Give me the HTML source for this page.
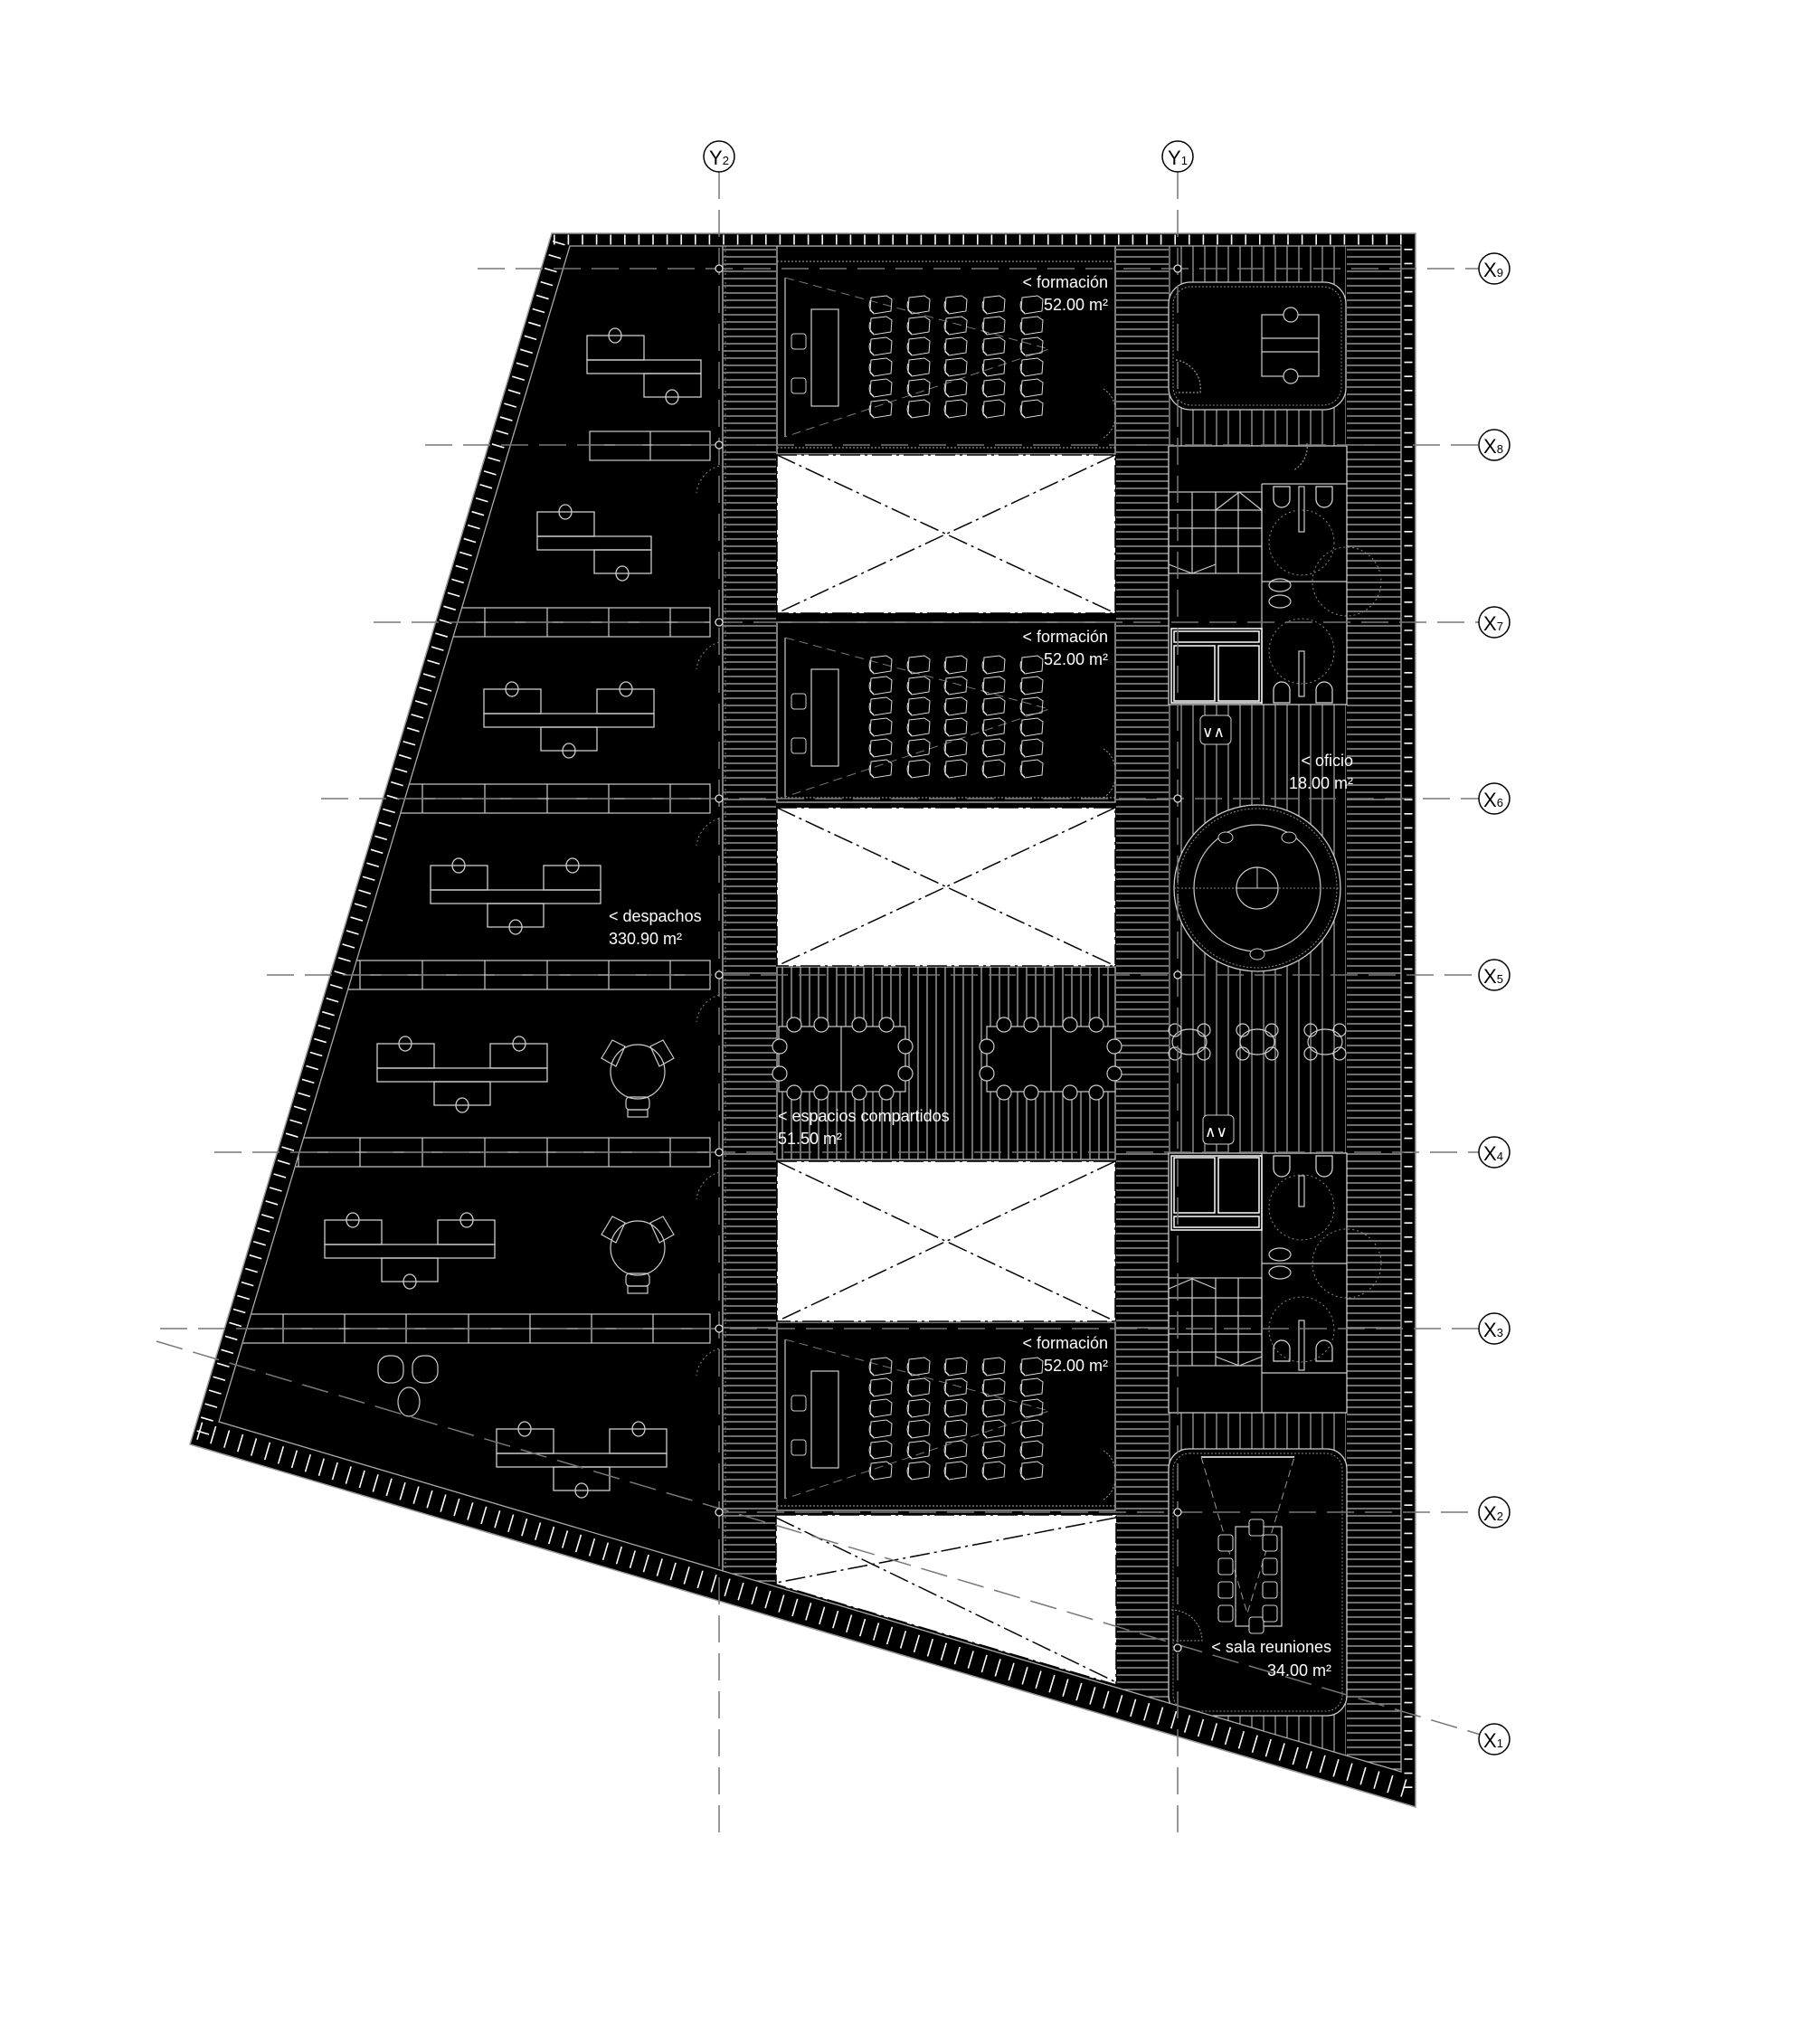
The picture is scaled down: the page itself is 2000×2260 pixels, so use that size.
<!DOCTYPE html>
<html><head><meta charset="utf-8"><style>
html,body{margin:0;padding:0;background:#fff;}
svg{display:block;}
text{font-family:"Liberation Sans",sans-serif;fill:#fff;}
</style></head><body>
<svg width="2000" height="2260" viewBox="0 0 2000 2260" xmlns="http://www.w3.org/2000/svg">
<defs>
<pattern id="hh" width="8" height="8" patternUnits="userSpaceOnUse"><rect width="8" height="8" fill="#000"/><line x1="0" y1="4" x2="8" y2="4" stroke="#b8b8b8" stroke-width="1.2"/></pattern>
<pattern id="hv" width="10" height="10" patternUnits="userSpaceOnUse"><rect width="10" height="10" fill="#000"/><line x1="5" y1="0" x2="5" y2="10" stroke="#b8b8b8" stroke-width="1.2"/></pattern>
<pattern id="hv2" width="13" height="13" patternUnits="userSpaceOnUse"><rect width="13" height="13" fill="#000"/><line x1="6" y1="0" x2="6" y2="13" stroke="#b8b8b8" stroke-width="1.1"/></pattern>
<g id="chair"><path d="M3 2 L20 0 L26 4 L25 17 L6 20 L2 16 Z" fill="none" stroke="#ddd" stroke-width="1"/><path d="M2 6 Q-1 14 6 19" fill="none" stroke="#ddd" stroke-width="1"/></g>
<g id="desk3" fill="none" stroke="#ccc" stroke-width="1.3">
<rect x="0" y="0" width="63" height="27"/><rect x="125" y="0" width="63" height="27"/><rect x="0" y="27" width="188" height="15"/><rect x="63" y="42" width="62" height="26"/>
<ellipse cx="31" cy="0" rx="7" ry="8"/><ellipse cx="157" cy="0" rx="7" ry="8"/><ellipse cx="94" cy="68" rx="7" ry="8"/></g>
<g id="desk2" fill="none" stroke="#ccc" stroke-width="1.3">
<rect x="0" y="0" width="63" height="27"/><rect x="0" y="27" width="126" height="15"/><rect x="63" y="42" width="63" height="26"/>
<ellipse cx="31" cy="0" rx="7" ry="8"/><ellipse cx="94" cy="68" rx="7" ry="8"/></g>
<g id="lounge" fill="none" stroke="#ccc" stroke-width="1.2">
<circle cx="0" cy="0" r="30"/><path d="M-40 -15 L-28 -35 L-14 -28 L-24 -6 Z"/><path d="M40 -15 L28 -35 L14 -28 L24 -6 Z"/><rect x="-13" y="28" width="26" height="14" rx="4"/><rect x="-11" y="42" width="22" height="8"/></g>
<g id="formacion">
<line x1="868" y1="307" x2="868" y2="483" stroke="#ccc" stroke-width="1.2"/>
<path d="M868 307 L1160 386 L868 483" fill="none" stroke="#777" stroke-width="1" stroke-dasharray="10 6"/>
<rect x="897" y="342" width="30" height="107" fill="#000" stroke="#ccc" stroke-width="1.2"/>
<rect x="875" y="369" width="16" height="17" rx="3" fill="none" stroke="#ccc"/>
<rect x="875" y="418" width="16" height="17" rx="3" fill="none" stroke="#ccc"/>
<path d="M1220 430 A28 28 0 0 1 1233 455 M1220 484 A28 28 0 0 0 1233 459" fill="none" stroke="#999" stroke-dasharray="2 2"/>
</g>
<g id="rowchairs">
<use href="#chair" x="960" y="0"/><use href="#chair" x="1002" y="0"/><use href="#chair" x="1043" y="0"/><use href="#chair" x="1085" y="0"/><use href="#chair" x="1127" y="0"/>
</g>
<g id="chairgrid">
<use href="#rowchairs" y="327"/><use href="#rowchairs" y="350"/><use href="#rowchairs" y="373"/><use href="#rowchairs" y="396"/><use href="#rowchairs" y="419"/><use href="#rowchairs" y="442"/>
</g>
<g id="lockers" fill="none" stroke="#fff" stroke-width="1.5">
<rect x="1295" y="695" width="100" height="82"/><rect x="1298" y="698" width="94" height="12"/><rect x="1298" y="714" width="45" height="61"/><rect x="1347" y="714" width="45" height="61"/></g>
<g id="toilet" fill="none" stroke="#ddd" stroke-width="1.2"><path d="M0 0 L18 0 L18 14 A9 9 0 0 1 0 14 Z"/></g>
<g id="table4" fill="none" stroke="#ccc" stroke-width="1.2"><ellipse cx="0" cy="0" rx="19" ry="14"/><circle cx="-16" cy="-13" r="7"/><circle cx="16" cy="-13" r="7"/><circle cx="-16" cy="13" r="7"/><circle cx="16" cy="13" r="7"/></g>
<clipPath id="inner"><polygon points="630,272 1549,272 1549,1959 242,1572"/></clipPath>
<clipPath id="outer"><polygon points="610,258 1565,258 1565,1998 210,1597"/></clipPath>
</defs>

<polygon points="610,258 1565,258 1565,1998 210,1597" fill="#000"/>

<g clip-path="url(#inner)">
<rect x="800" y="272" width="58" height="1600" fill="url(#hh)"/>
<rect x="1234" y="272" width="58" height="1700" fill="url(#hh)"/>
<rect x="1489" y="272" width="60" height="1700" fill="url(#hh)"/>
<rect x="1292" y="272" width="196" height="1700" fill="url(#hv2)"/>
<line x1="799" y1="272" x2="799" y2="1860" stroke="#bbb" stroke-width="1.3"/>
<line x1="802" y1="272" x2="802" y2="1860" stroke="#888" stroke-dasharray="2 3"/>

<rect x="859" y="272" width="374" height="230" fill="#000" stroke="#bbb" stroke-width="1.3"/>
<rect x="859" y="688" width="374" height="199" fill="#000" stroke="#bbb" stroke-width="1.3"/>
<rect x="859" y="1462" width="374" height="208" fill="#000" stroke="#bbb" stroke-width="1.3"/>
<line x1="859" y1="289" x2="1233" y2="289" stroke="#aaa" stroke-dasharray="2 2"/>
<line x1="859" y1="495" x2="1233" y2="495" stroke="#aaa" stroke-dasharray="2 2"/>
<line x1="859" y1="882" x2="1233" y2="882" stroke="#aaa" stroke-dasharray="2 2"/>
<line x1="859" y1="1665" x2="1233" y2="1665" stroke="#aaa" stroke-dasharray="2 2"/>
<rect x="859" y="1069" width="374" height="213" fill="url(#hv)" stroke="#bbb" stroke-width="1.3"/>

<use href="#formacion"/><use href="#chairgrid"/>
<use href="#formacion" y="398"/><use href="#chairgrid" y="398"/>
<use href="#formacion" y="1174"/><use href="#chairgrid" y="1174"/>

<g fill="#000" stroke="#ccc" stroke-width="1.2">
<rect x="861" y="1135" width="140" height="72"/><line x1="930" y1="1135" x2="930" y2="1207"/>
<rect x="1091" y="1135" width="142" height="72"/><line x1="1162" y1="1135" x2="1162" y2="1207"/>
</g>
<g fill="#000" stroke="#ccc" stroke-width="1.2">
<circle cx="878" cy="1133" r="8"/><circle cx="908" cy="1133" r="8"/><circle cx="950" cy="1133" r="8"/><circle cx="980" cy="1133" r="8"/>
<circle cx="878" cy="1208" r="8"/><circle cx="908" cy="1208" r="8"/><circle cx="950" cy="1208" r="8"/><circle cx="980" cy="1208" r="8"/>
<circle cx="1001" cy="1157" r="8"/><circle cx="1001" cy="1187" r="8"/><circle cx="862" cy="1157" r="8"/><circle cx="862" cy="1187" r="8"/>
<circle cx="1110" cy="1133" r="8"/><circle cx="1140" cy="1133" r="8"/><circle cx="1183" cy="1133" r="8"/><circle cx="1212" cy="1133" r="8"/>
<circle cx="1110" cy="1208" r="8"/><circle cx="1140" cy="1208" r="8"/><circle cx="1183" cy="1208" r="8"/><circle cx="1212" cy="1208" r="8"/>
<circle cx="1091" cy="1157" r="8"/><circle cx="1091" cy="1187" r="8"/><circle cx="1232" cy="1157" r="8"/><circle cx="1232" cy="1187" r="8"/>
</g>

<g stroke="#000" stroke-width="1.5" stroke-dasharray="22 5 3 5" fill="none">
<rect x="859" y="503" width="374" height="175" fill="#fff"/>
<line x1="859" y1="503" x2="1233" y2="678"/><line x1="1233" y1="503" x2="859" y2="678"/>
<rect x="859" y="893" width="374" height="175" fill="#fff"/>
<line x1="859" y1="893" x2="1233" y2="1068"/><line x1="1233" y1="893" x2="859" y2="1068"/>
<rect x="859" y="1284" width="374" height="177" fill="#fff"/>
<line x1="859" y1="1284" x2="1233" y2="1461"/><line x1="1233" y1="1284" x2="859" y2="1461"/>
<polygon points="858,1675 1234,1675 1234,1863 858,1752" fill="#fff"/>
<line x1="858" y1="1678" x2="1234" y2="1860"/><line x1="1234" y1="1678" x2="858" y2="1750"/>
</g>

<rect x="1292" y="312" width="196" height="141" rx="24" fill="#000" stroke="#ccc" stroke-width="1.3"/>
<rect x="1297" y="317" width="186" height="131" rx="20" fill="none" stroke="#888" stroke-dasharray="2 2"/>
<g fill="none" stroke="#ccc" stroke-width="1.2"><rect x="1395" y="348" width="63" height="68"/><line x1="1395" y1="374" x2="1458" y2="374"/><line x1="1395" y1="389" x2="1458" y2="389"/><circle cx="1427" cy="348" r="8" fill="#000"/><circle cx="1427" cy="416" r="8" fill="#000"/>
<path d="M1300 398 A32 32 0 0 1 1327 434 L1300 434" stroke="#999" stroke-dasharray="2 2"/></g>

<rect x="1292" y="493" width="197" height="286" fill="#000" stroke="#ccc" stroke-width="1.3"/>
<g fill="none" stroke="#ccc" stroke-width="1.2">
<line x1="1395" y1="535" x2="1489" y2="535"/><line x1="1395" y1="535" x2="1395" y2="779"/>
<line x1="1395" y1="643" x2="1489" y2="643"/>
<rect x="1292" y="544" width="103" height="90"/>
<line x1="1318" y1="544" x2="1318" y2="634"/><line x1="1344" y1="544" x2="1344" y2="634"/><line x1="1369" y1="544" x2="1369" y2="634"/>
<line x1="1292" y1="564" x2="1395" y2="564"/><line x1="1292" y1="584" x2="1395" y2="584"/><line x1="1292" y1="604" x2="1395" y2="604"/>
<path d="M1344 564 L1370 544 L1395 564 M1292 624 L1318 634 L1344 624"/>
<rect x="1436" y="538" width="6" height="50"/><rect x="1436" y="720" width="6" height="50"/>
<ellipse cx="1415" cy="647" rx="12" ry="7"/><ellipse cx="1415" cy="665" rx="12" ry="7"/>
<path d="M1445 490 A30 30 0 0 1 1430 520" stroke="#999" stroke-dasharray="2 2"/>
</g>
<use href="#toilet" x="1408" y="538"/><use href="#toilet" x="1455" y="538"/>
<g transform="translate(0,1315) scale(1,-1)"><use href="#toilet" x="1408" y="538"/><use href="#toilet" x="1455" y="538"/></g>
<g fill="none" stroke="#888" stroke-dasharray="2 3"><circle cx="1439" cy="600" r="36"/><circle cx="1489" cy="643" r="38"/><circle cx="1439" cy="720" r="36"/></g>
<use href="#lockers"/>

<rect x="1327" y="791" width="34" height="32" rx="5" fill="#000" stroke="#ccc"/>
<text x="1329" y="815" font-size="17">∨∧</text>
<circle cx="1390" cy="982" r="92" fill="#000" stroke="#ccc" stroke-width="1.3"/>
<circle cx="1390" cy="982" r="88" fill="none" stroke="#888" stroke-dasharray="2 2"/>
<circle cx="1390" cy="982" r="70" fill="none" stroke="#ccc" stroke-width="1.2"/>
<line x1="1298" y1="982" x2="1482" y2="982" stroke="#888" stroke-dasharray="2 2"/>
<circle cx="1390" cy="982" r="23" fill="#000" stroke="#ccc" stroke-width="1.2"/>
<line x1="1390" y1="959" x2="1390" y2="982" stroke="#ccc"/><line x1="1367" y1="982" x2="1413" y2="982" stroke="#ccc"/>
<g fill="#000" stroke="#ccc"><ellipse cx="1355" cy="926" rx="8" ry="6"/><ellipse cx="1425" cy="926" rx="8" ry="6"/><ellipse cx="1390" cy="1055" rx="8" ry="6"/></g>
<use href="#table4" x="1315" y="1152"/><use href="#table4" x="1390" y="1152"/><use href="#table4" x="1465" y="1152"/>
<rect x="1330" y="1233" width="34" height="32" rx="5" fill="#000" stroke="#ccc"/>
<text x="1332" y="1257" font-size="17">∧∨</text>

<rect x="1292" y="1275" width="197" height="287" fill="#000" stroke="#ccc" stroke-width="1.3"/>
<g fill="none" stroke="#ccc" stroke-width="1.2">
<line x1="1395" y1="1275" x2="1395" y2="1562"/><line x1="1395" y1="1397" x2="1489" y2="1397"/><line x1="1395" y1="1518" x2="1489" y2="1518"/>
<rect x="1292" y="1413" width="103" height="97"/>
<line x1="1318" y1="1413" x2="1318" y2="1510"/><line x1="1344" y1="1413" x2="1344" y2="1510"/><line x1="1369" y1="1413" x2="1369" y2="1510"/>
<line x1="1292" y1="1435" x2="1395" y2="1435"/><line x1="1292" y1="1455" x2="1395" y2="1455"/><line x1="1292" y1="1475" x2="1395" y2="1475"/><line x1="1292" y1="1495" x2="1395" y2="1495"/>
<path d="M1292 1425 L1318 1414 L1344 1425 M1344 1500 L1370 1510 L1395 1500"/>
<rect x="1436" y="1300" width="6" height="34"/><rect x="1436" y="1460" width="6" height="55"/>
<ellipse cx="1415" cy="1387" rx="12" ry="7"/><ellipse cx="1415" cy="1407" rx="12" ry="7"/>
</g>
<use href="#toilet" x="1408" y="1278"/><use href="#toilet" x="1455" y="1278"/>
<g transform="translate(0,2783) scale(1,-1)"><use href="#toilet" x="1408" y="1278"/><use href="#toilet" x="1455" y="1278"/></g>
<g transform="translate(0,2055) scale(1,-1)"><use href="#lockers"/></g>
<g fill="none" stroke="#888" stroke-dasharray="2 3"><circle cx="1439" cy="1335" r="36"/><circle cx="1489" cy="1397" r="38"/><circle cx="1439" cy="1470" r="36"/></g>

<rect x="1292" y="1602" width="197" height="295" rx="22" fill="#000" stroke="#ccc" stroke-width="1.3"/>
<rect x="1297" y="1607" width="187" height="285" rx="18" fill="none" stroke="#888" stroke-dasharray="2 2"/>
<line x1="1328" y1="1611" x2="1431" y2="1611" stroke="#fff" stroke-width="1.5"/>
<path d="M1328 1611 L1379 1784 L1431 1611" fill="none" stroke="#999" stroke-dasharray="8 5"/>
<rect x="1366" y="1688" width="51" height="110" fill="none" stroke="#ccc" stroke-width="1.2"/>
<g fill="#000" stroke="#ccc" stroke-width="1.1">
<rect x="1381" y="1680" width="16" height="18" rx="3"/><rect x="1381" y="1788" width="16" height="18" rx="3"/>
<rect x="1347" y="1697" width="16" height="18" rx="3"/><rect x="1347" y="1723" width="16" height="18" rx="3"/><rect x="1347" y="1749" width="16" height="18" rx="3"/><rect x="1347" y="1775" width="16" height="18" rx="3"/>
<rect x="1396" y="1697" width="16" height="18" rx="3"/><rect x="1396" y="1723" width="16" height="18" rx="3"/><rect x="1396" y="1749" width="16" height="18" rx="3"/><rect x="1396" y="1775" width="16" height="18" rx="3"/>
</g>
<path d="M1295 1780 A34 34 0 0 1 1329 1814 L1295 1814" fill="none" stroke="#999" stroke-dasharray="2 2"/>

<g fill="none" stroke="#ccc" stroke-width="1.2">
<rect x="652" y="477" width="133" height="32"/><line x1="652" y1="492" x2="785" y2="492"/><line x1="719" y1="477" x2="719" y2="509"/>
<rect x="465" y="672" width="320" height="32"/><line x1="465" y1="688" x2="785" y2="688"/>
<rect x="398" y="867" width="387" height="32"/><line x1="398" y1="883" x2="785" y2="883"/>
<rect x="340" y="1062" width="445" height="32"/><line x1="340" y1="1078" x2="785" y2="1078"/>
<rect x="283" y="1258" width="502" height="32"/><line x1="283" y1="1274" x2="785" y2="1274"/>
<rect x="225" y="1453" width="560" height="32"/><line x1="225" y1="1469" x2="785" y2="1469"/>
<path d="M536 672V704 M605 672V704 M673 672V704 M741 672V704"/>
<path d="M467 867V899 M536 867V899 M605 867V899 M673 867V899 M741 867V899"/>
<path d="M398 1062V1094 M467 1062V1094 M536 1062V1094 M605 1062V1094 M673 1062V1094 M741 1062V1094"/>
<path d="M330 1258V1290 M398 1258V1290 M467 1258V1290 M536 1258V1290 M605 1258V1290 M673 1258V1290 M741 1258V1290"/>
<path d="M313 1453V1485 M381 1453V1485 M449 1453V1485 M518 1453V1485 M586 1453V1485 M654 1453V1485 M722 1453V1485"/>
</g>
<g fill="none" stroke="#888" stroke-dasharray="2 3">
<path d="M795 515 A36 36 0 0 0 770 545"/><path d="M795 710 A36 36 0 0 0 770 740"/><path d="M795 905 A36 36 0 0 0 770 935"/>
<path d="M795 1100 A36 36 0 0 0 770 1130"/><path d="M795 1296 A36 36 0 0 0 770 1326"/><path d="M795 1491 A36 36 0 0 0 770 1521"/>
</g>
<use href="#desk2" x="649" y="371"/>
<use href="#desk2" x="594" y="566"/>
<use href="#desk3" x="535" y="762"/>
<use href="#desk3" x="476" y="957"/>
<use href="#desk3" x="417" y="1154"/>
<use href="#desk3" x="359" y="1349"/>
<use href="#desk3" x="549" y="1580"/>
<use href="#lounge" x="705" y="1185"/>
<use href="#lounge" x="705" y="1380"/>
<g fill="none" stroke="#ccc" stroke-width="1.2">
<rect x="418" y="1499" width="28" height="30" rx="12"/><rect x="456" y="1499" width="28" height="30" rx="12"/>
<ellipse cx="452" cy="1550" rx="12" ry="16"/></g>
</g>

<path d="M610,258 L1565,258 L1565,1998 L210,1597 Z M630,272 L242,1572 L1549,1959 L1549,272 Z" fill="#000" fill-rule="evenodd"/>
<polygon points="630,272 1549,272 1549,1959 242,1572" fill="none" stroke="#aaa" stroke-width="1.3"/>
<polygon points="610,258 1565,258 1565,1998 210,1597" fill="none" stroke="#999" stroke-width="1.5"/>
<g clip-path="url(#outer)" stroke="#fff" fill="none">
<line x1="612" y1="265" x2="1560" y2="265" stroke-width="11" stroke-dasharray="1.6 14"/>
<line x1="1557" y1="275" x2="1557" y2="1985" stroke-width="9" stroke-dasharray="1.6 14"/>
<line x1="618" y1="268" x2="222" y2="1592" stroke-width="14" stroke-dasharray="1.6 14"/>
<line x1="220" y1="1582" x2="1562" y2="1980" stroke-width="20" stroke-dasharray="1.6 14"/>
</g>

<g stroke="#777" stroke-width="1.5" stroke-dasharray="30 12" fill="none">
<line x1="795" y1="190" x2="795" y2="2033"/><line x1="1302" y1="190" x2="1302" y2="2033"/>
<line x1="528" y1="297" x2="1635" y2="297"/>
<line x1="470" y1="492" x2="1635" y2="492"/>
<line x1="413" y1="688" x2="1635" y2="688"/>
<line x1="355" y1="883" x2="1635" y2="883"/>
<line x1="295" y1="1078" x2="1635" y2="1078"/>
<line x1="237" y1="1274" x2="1635" y2="1274"/>
<line x1="177" y1="1469" x2="1635" y2="1469"/>
<line x1="795" y1="1672" x2="1635" y2="1672"/>
<line x1="173" y1="1483" x2="1637" y2="1918"/>
</g>
<g fill="#000" stroke="#ddd" stroke-width="1.3">
<circle cx="795" cy="297" r="4"/><circle cx="795" cy="492" r="4"/><circle cx="795" cy="688" r="4"/><circle cx="795" cy="883" r="4"/><circle cx="795" cy="1078" r="4"/><circle cx="795" cy="1274" r="4"/><circle cx="795" cy="1469" r="4"/><circle cx="795" cy="1672" r="4"/>
<circle cx="1302" cy="297" r="4"/><circle cx="1302" cy="883" r="4"/><circle cx="1302" cy="1078" r="4"/><circle cx="1302" cy="1672" r="4"/><circle cx="1302" cy="1822" r="4"/>
</g>

<g fill="#fff" stroke="#000" stroke-width="1.5">
<circle cx="795" cy="173" r="17"/><circle cx="1302" cy="173" r="17"/>
<circle cx="1652" cy="297" r="17"/><circle cx="1652" cy="492" r="17"/><circle cx="1652" cy="688" r="17"/><circle cx="1652" cy="883" r="17"/><circle cx="1652" cy="1078" r="17"/><circle cx="1652" cy="1274" r="17"/><circle cx="1652" cy="1469" r="17"/><circle cx="1652" cy="1672" r="17"/><circle cx="1652" cy="1923" r="17"/>
</g>
<g>
<text x="784" y="182" font-size="22" style="fill:#000">Y<tspan font-size="13">2</tspan></text>
<text x="1291" y="182" font-size="22" style="fill:#000">Y<tspan font-size="13">1</tspan></text>
<text x="1640" y="306" font-size="22" style="fill:#000">X<tspan font-size="13">9</tspan></text>
<text x="1640" y="501" font-size="22" style="fill:#000">X<tspan font-size="13">8</tspan></text>
<text x="1640" y="697" font-size="22" style="fill:#000">X<tspan font-size="13">7</tspan></text>
<text x="1640" y="892" font-size="22" style="fill:#000">X<tspan font-size="13">6</tspan></text>
<text x="1640" y="1087" font-size="22" style="fill:#000">X<tspan font-size="13">5</tspan></text>
<text x="1640" y="1283" font-size="22" style="fill:#000">X<tspan font-size="13">4</tspan></text>
<text x="1640" y="1478" font-size="22" style="fill:#000">X<tspan font-size="13">3</tspan></text>
<text x="1640" y="1681" font-size="22" style="fill:#000">X<tspan font-size="13">2</tspan></text>
<text x="1640" y="1932" font-size="22" style="fill:#000">X<tspan font-size="13">1</tspan></text>
</g>

<g font-size="18">
<text x="1225" y="318" text-anchor="end">&lt; formación</text>
<text x="1225" y="343" text-anchor="end">52.00 m²</text>
<text x="1225" y="710" text-anchor="end">&lt; formación</text>
<text x="1225" y="735" text-anchor="end">52.00 m²</text>
<text x="1225" y="1491" text-anchor="end">&lt; formación</text>
<text x="1225" y="1516" text-anchor="end">52.00 m²</text>
<text x="1496" y="847" text-anchor="end">&lt; oficio</text>
<text x="1496" y="872" text-anchor="end">18.00 m²</text>
<text x="673" y="1019">&lt; despachos</text>
<text x="673" y="1044">330.90 m²</text>
<text x="860" y="1240">&lt; espacios compartidos</text>
<text x="860" y="1265">51.50 m²</text>
<text x="1472" y="1827" text-anchor="end">&lt; sala reuniones</text>
<text x="1472" y="1853" text-anchor="end">34.00 m²</text>
</g>
</svg>
</body></html>
